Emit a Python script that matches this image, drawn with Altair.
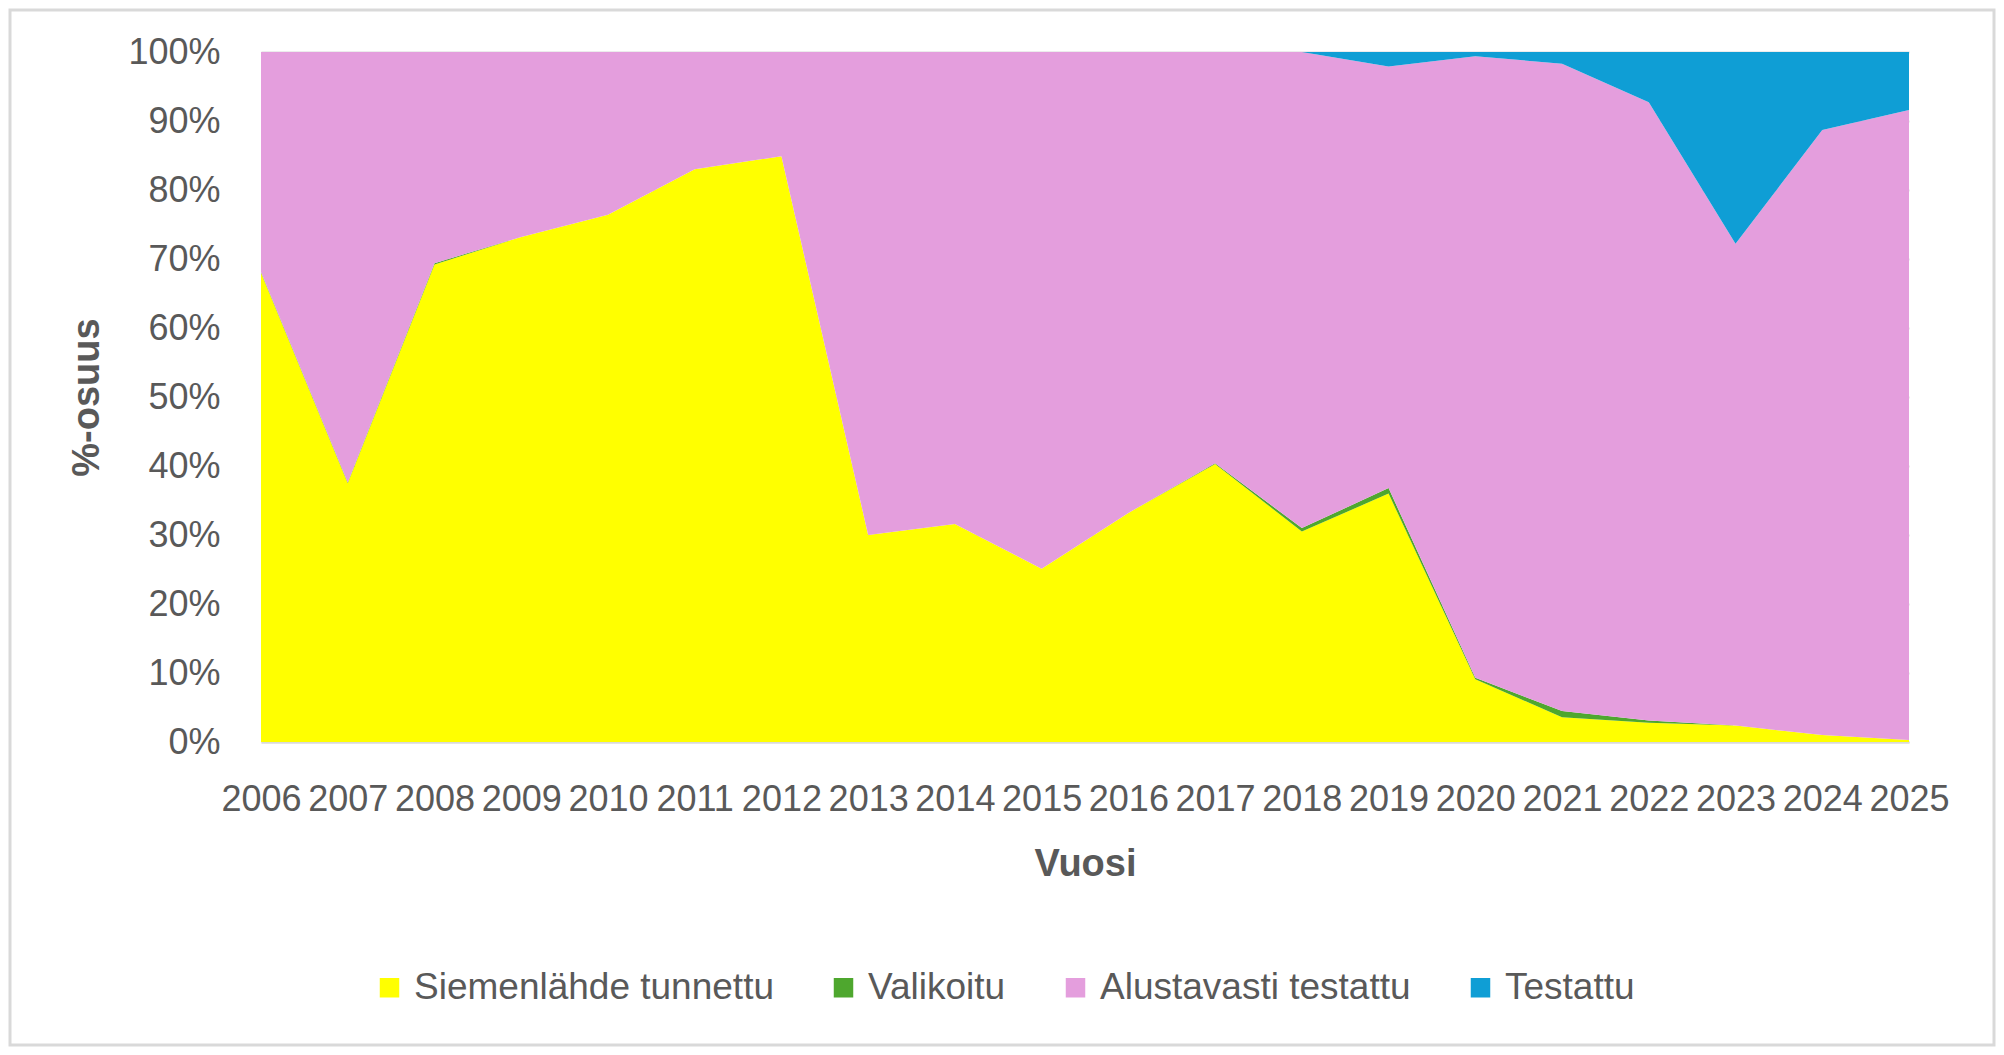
import altair as alt
import pandas as pd

years = [str(y) for y in range(2006, 2026)]
series = ["Siemenlähde tunnettu", "Valikoitu", "Alustavasti testattu", "Testattu"]
colors = ["#FFFF00", "#4EA72E", "#E49EDD", "#0F9ED5"]

siemenlahde = [68.0, 37.5, 69.2, 73.2, 76.4, 83.0, 84.9, 30.0, 31.6, 25.1,
               33.2, 40.3, 30.5, 36.0, 9.1, 3.6, 2.8, 2.4, 1.0, 0.3]
valikoitu = [0.1, 0.1, 0.2, 0.0, 0.0, 0.0, 0.0, 0.0, 0.0, 0.0,
             0.0, 0.1, 0.5, 0.8, 0.2, 0.9, 0.3, 0.0, 0.0, 0.0]
testattu = [0.0, 0.0, 0.0, 0.0, 0.0, 0.0, 0.0, 0.0, 0.0, 0.0,
            0.0, 0.0, 0.0, 2.1, 0.6, 1.7, 7.3, 27.8, 11.3, 8.4]
alustavasti = [round(100 - a - b - c, 2) for a, b, c in zip(siemenlahde, valikoitu, testattu)]

values = [siemenlahde, valikoitu, alustavasti, testattu]

rows = []
for i, y in enumerate(years):
    lo = 0.0
    for k, s in enumerate(series):
        hi = lo + values[k][i]
        rows.append({"Vuosi": y, "Sarja": s, "idx": k, "lo": lo, "hi": hi})
        lo = hi
df = pd.DataFrame(rows)

FONT = "Liberation Sans"
GRAY = "#595959"

areas = alt.Chart(df).mark_area(opacity=1, strokeWidth=0).encode(
    x=alt.X("Vuosi:O",
            scale=alt.Scale(type="point", padding=0),
            axis=alt.Axis(title="Vuosi", labelAngle=0, ticks=False, domain=True,
                          domainColor="#D9D9D9", domainWidth=2,
                          labelFont=FONT, labelFontSize=36, labelColor=GRAY,
                          labelPadding=57, labelBaseline="middle", labelOverlap=False,
                          titleFont=FONT, titleFontSize=38, titleFontWeight="bold",
                          titleColor=GRAY, titleY=122, titleBaseline="middle")),
    y=alt.Y("hi:Q",
            scale=alt.Scale(domain=[0, 100], nice=False),
            axis=alt.Axis(title="%-osuus", values=list(range(0, 101, 10)),
                          labelExpr="datum.value + '%'", ticks=False, domain=False,
                          grid=True, gridColor="#D9D9D9", gridWidth=2,
                          labelFont=FONT, labelFontSize=36, labelColor=GRAY,
                          labelPadding=41,
                          titleFont=FONT, titleFontSize=38, titleFontWeight="bold",
                          titleColor=GRAY, titleAngle=-90, titleX=-174, titleY=345,
                          titleBaseline="middle", titleAlign="center")),
    y2="lo:Q",
    color=alt.Color("Sarja:N",
                    scale=alt.Scale(domain=series, range=colors),
                    sort=series,
                    legend=alt.Legend(title=None, orient="none", direction="horizontal",
                                      legendX=110, legendY=917,
                                      symbolType="square", symbolSize=380,
                                      symbolStrokeWidth=0, symbolOpacity=1,
                                      labelFont=FONT, labelFontSize=37, labelColor=GRAY,
                                      labelOffset=6, columnPadding=51,
                                      labelLimit=600)),
    order=alt.Order("idx:Q"),
)

frame_df = pd.DataFrame({"k": [0]})
frame = alt.Chart(frame_df).mark_rect(fill=None, stroke="#D9D9D9", strokeWidth=3).encode(
    x=alt.value(-251), x2=alt.value(1648 + 85),
    y=alt.value(-42), y2=alt.value(690 + 303),
)

chart = alt.layer(frame, areas).properties(
    width=1648, height=690,
    autosize=alt.AutoSizeParams(type="none"),
    padding={"left": 253, "top": 44, "right": 87, "bottom": 305},
    background="white",
).configure_view(stroke=None)

chart.save("out.html", embed_options={"renderer": "svg", "actions": False})
